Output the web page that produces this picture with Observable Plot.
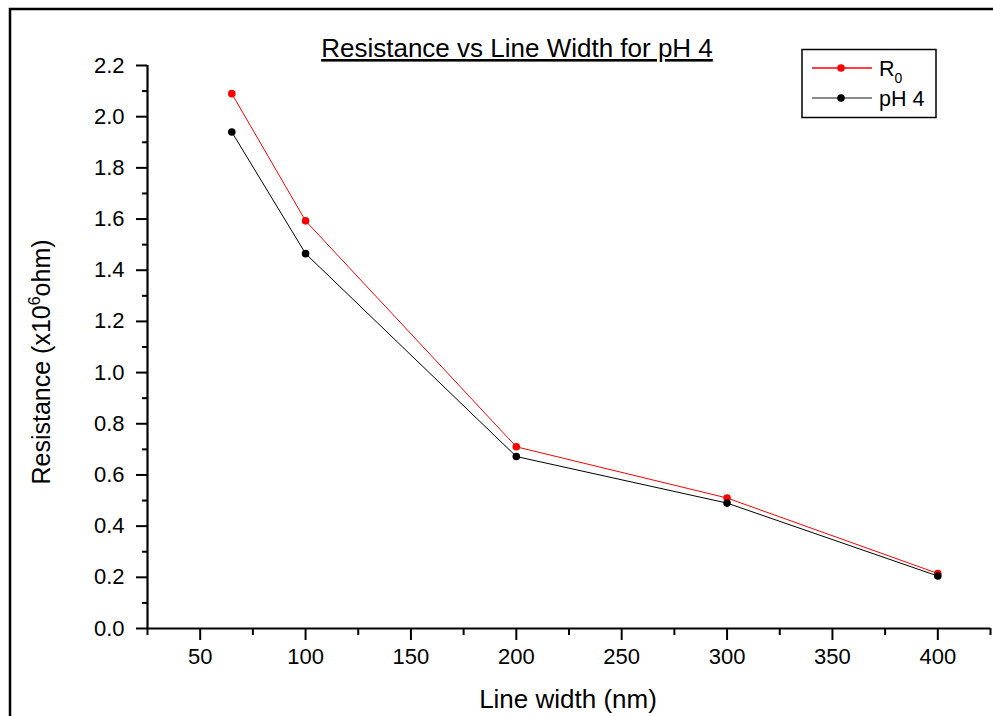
<!DOCTYPE html>
<html>
<head>
<meta charset="utf-8">
<script src="https://cdn.jsdelivr.net/npm/d3@7"></script>
<script src="https://cdn.jsdelivr.net/npm/@observablehq/plot@0.6"></script>
<style>
  html, body { margin: 0; padding: 0; background: white; }
  #chart svg { display: block; }
</style>
</head>
<body>
<div id="chart"></div>
<script>
const lineWidths = [65, 100, 200, 300, 400];
const r0Values = [2.09, 1.593, 0.71, 0.51, 0.215];
const ph4Values = [1.94, 1.465, 0.672, 0.49, 0.205];
const seriesNames = ["R0", "pH 4"];
const seriesColors = ["#ff0000", "#000000"];
const xMajorTicks = [50, 100, 150, 200, 250, 300, 350, 400];
const xMinorTicks = [25, 75, 125, 175, 225, 275, 325, 375, 425];
const yMajorTicks = [0, 0.2, 0.4, 0.6, 0.8, 1.0, 1.2, 1.4, 1.6, 1.8, 2.0, 2.2];
const yMinorTicks = [0.1, 0.3, 0.5, 0.7, 0.9, 1.1, 1.3, 1.5, 1.7, 1.9, 2.1];
const titleText = "Resistance vs Line Width for pH 4";
const xLabelText = "Line width (nm)";

const rows = [];
lineWidths.forEach((w, i) => {
  rows.push({width: w, value: r0Values[i], series: seriesNames[0]});
  rows.push({width: w, value: ph4Values[i], series: seriesNames[1]});
});

const font = "'Liberation Sans', Arial, sans-serif";

const plot = Plot.plot({
  width: 993,
  height: 716,
  marginLeft: 147,
  marginRight: 3,
  marginTop: 65,
  marginBottom: 88,
  style: {fontFamily: font, fontSize: "22px", color: "black", background: "white", overflow: "visible"},
  x: {domain: [25, 425]},
  y: {domain: [0, 2.2]},
  color: {domain: seriesNames, range: seriesColors},
  marks: [
    Plot.axisX({ticks: xMinorTicks, tickSize: 7, strokeWidth: 2, tickFormat: () => "", label: null}),
    Plot.axisX({ticks: xMajorTicks, tickSize: 12, strokeWidth: 2, tickPadding: 8, fontSize: 22, tickFormat: d => String(d), label: null}),
    Plot.axisY({ticks: yMinorTicks, tickSize: 5, strokeWidth: 2, tickFormat: () => "", label: null}),
    Plot.axisY({ticks: yMajorTicks, tickSize: 11, strokeWidth: 2, tickPadding: 12, fontSize: 22, tickFormat: d => d.toFixed(1), label: null}),
    Plot.ruleY([0], {stroke: "black", strokeWidth: 2.2}),
    Plot.ruleX([25], {stroke: "black", strokeWidth: 2.2}),
    Plot.line(rows, {x: "width", y: "value", z: "series", stroke: "series", strokeWidth: 1}),
    Plot.dot(rows, {x: "width", y: "value", fill: "series", r: 3.8, stroke: "none"})
  ]
});

const svg = d3.select(plot);

// outer frame (left and top edges visible)
svg.append("path")
  .attr("d", "M10,716 V9 H993")
  .attr("fill", "none")
  .attr("stroke", "black")
  .attr("stroke-width", 2.5);

// title
svg.append("text")
  .attr("x", 517).attr("y", 57)
  .attr("text-anchor", "middle")
  .attr("font-family", font)
  .attr("font-size", 26)
  .attr("text-decoration", "underline")
  .attr("fill", "black")
  .text(titleText);

// x label
svg.append("text")
  .attr("x", 568).attr("y", 708)
  .attr("text-anchor", "middle")
  .attr("font-family", font)
  .attr("font-size", 26)
  .attr("fill", "black")
  .text(xLabelText);

// y label with superscript
const yl = svg.append("text")
  .attr("transform", "translate(50,362) rotate(-90)")
  .attr("text-anchor", "middle")
  .attr("font-family", font)
  .attr("font-size", 25)
  .attr("fill", "black");
yl.append("tspan").text("Resistance (x10");
yl.append("tspan").attr("font-size", 16).attr("dy", -10).text("6");
yl.append("tspan").attr("dy", 10).text("ohm)");

// legend
const lg = svg.append("g");
lg.append("rect")
  .attr("x", 802).attr("y", 49.5)
  .attr("width", 134).attr("height", 68)
  .attr("fill", "white").attr("stroke", "black").attr("stroke-width", 1.5);
const legendY = [68, 98];
seriesNames.forEach((name, i) => {
  const y = legendY[i];
  lg.append("line")
    .attr("x1", 812).attr("x2", 872).attr("y1", y).attr("y2", y)
    .attr("stroke", i === 0 ? seriesColors[0] : "#8a8a8a").attr("stroke-width", i === 0 ? 1.3 : 2);
  lg.append("circle").attr("cx", 841).attr("cy", y).attr("r", 3.8).attr("fill", seriesColors[i]);
  const t = lg.append("text")
    .attr("x", 879).attr("y", y + 8)
    .attr("text-anchor", "start")
    .attr("font-family", font).attr("font-size", 21.5).attr("fill", "black");
  if (name === "R0") {
    t.append("tspan").text("R");
    t.append("tspan").attr("font-size", 14).attr("dy", 7).text("0");
  } else {
    t.text(name);
  }
});

document.getElementById("chart").appendChild(plot);
</script>
</body>
</html>
